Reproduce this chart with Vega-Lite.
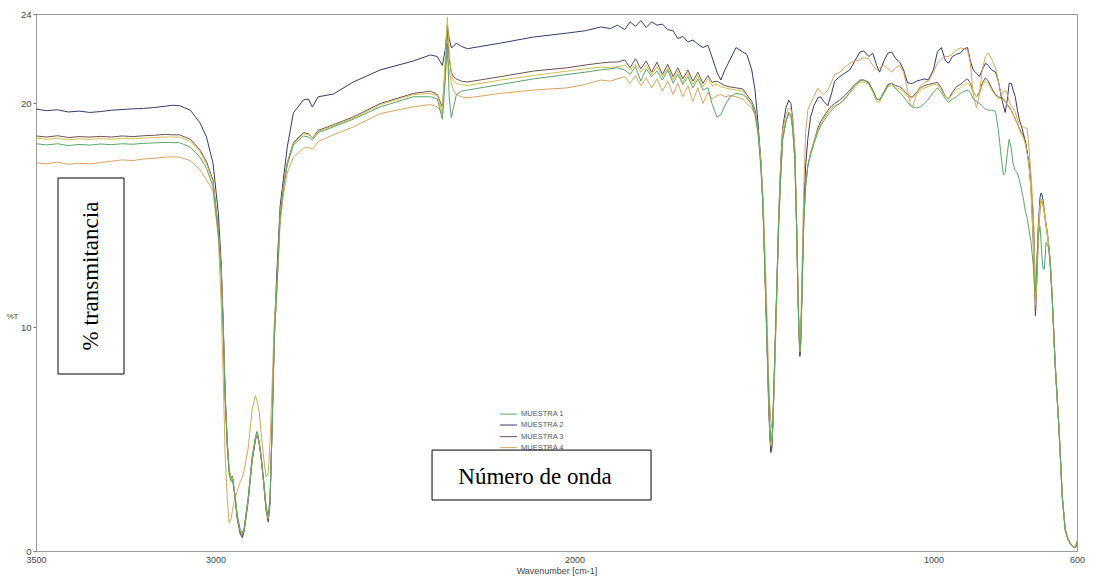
{
  "$schema": "https://vega.github.io/schema/vega-lite/v6.json",
  "autosize": "none",
  "width": 1041,
  "height": 537,
  "padding": {"left": 36, "top": 14, "right": 16, "bottom": 30},
  "background": "white",
  "config": {
    "view": {"stroke": "#9a9a9a"},
    "font": "Liberation Sans"
  },
  "layer": [
    {
      "data": {"values": [
        {"s":"MUESTRA 2","w":3500,"t":19.75},{"s":"MUESTRA 2","w":3470,"t":19.68},{"s":"MUESTRA 2","w":3440,"t":19.72},{"s":"MUESTRA 2","w":3410,"t":19.62},{"s":"MUESTRA 2","w":3380,"t":19.66},{"s":"MUESTRA 2","w":3350,"t":19.6},{"s":"MUESTRA 2","w":3320,"t":19.64},{"s":"MUESTRA 2","w":3290,"t":19.7},{"s":"MUESTRA 2","w":3260,"t":19.73},{"s":"MUESTRA 2","w":3230,"t":19.76},
        {"s":"MUESTRA 2","w":3200,"t":19.78},{"s":"MUESTRA 2","w":3170,"t":19.82},{"s":"MUESTRA 2","w":3140,"t":19.88},{"s":"MUESTRA 2","w":3120,"t":19.92},{"s":"MUESTRA 2","w":3100,"t":19.9},{"s":"MUESTRA 2","w":3070,"t":19.7},{"s":"MUESTRA 2","w":3043,"t":19.13},{"s":"MUESTRA 2","w":3025,"t":18.5},{"s":"MUESTRA 2","w":3007,"t":17.34},{"s":"MUESTRA 2","w":2992,"t":15.1},
        {"s":"MUESTRA 2","w":2984,"t":12.8},{"s":"MUESTRA 2","w":2978,"t":10.0},{"s":"MUESTRA 2","w":2973,"t":7.0},{"s":"MUESTRA 2","w":2967,"t":4.8},{"s":"MUESTRA 2","w":2962,"t":3.6},{"s":"MUESTRA 2","w":2956,"t":3.2},{"s":"MUESTRA 2","w":2953,"t":3.3},{"s":"MUESTRA 2","w":2948,"t":2.7},{"s":"MUESTRA 2","w":2939,"t":1.4},{"s":"MUESTRA 2","w":2931,"t":0.75},
        {"s":"MUESTRA 2","w":2925,"t":0.6},{"s":"MUESTRA 2","w":2920,"t":0.9},{"s":"MUESTRA 2","w":2909,"t":2.2},{"s":"MUESTRA 2","w":2898,"t":4.0},{"s":"MUESTRA 2","w":2889,"t":4.9},{"s":"MUESTRA 2","w":2884,"t":5.3},{"s":"MUESTRA 2","w":2878,"t":4.8},{"s":"MUESTRA 2","w":2873,"t":4.2},{"s":"MUESTRA 2","w":2864,"t":2.7},{"s":"MUESTRA 2","w":2859,"t":1.8},
        {"s":"MUESTRA 2","w":2853,"t":1.3},{"s":"MUESTRA 2","w":2848,"t":2.1},{"s":"MUESTRA 2","w":2842,"t":5.8},{"s":"MUESTRA 2","w":2836,"t":9.9},{"s":"MUESTRA 2","w":2828,"t":12.8},{"s":"MUESTRA 2","w":2820,"t":15.4},{"s":"MUESTRA 2","w":2811,"t":16.6},{"s":"MUESTRA 2","w":2800,"t":18.06},{"s":"MUESTRA 2","w":2783,"t":19.58},{"s":"MUESTRA 2","w":2755,"t":20.16},
        {"s":"MUESTRA 2","w":2741,"t":20.2},{"s":"MUESTRA 2","w":2730,"t":19.84},{"s":"MUESTRA 2","w":2714,"t":20.3},{"s":"MUESTRA 2","w":2672,"t":20.42},{"s":"MUESTRA 2","w":2616,"t":20.96},{"s":"MUESTRA 2","w":2541,"t":21.5},{"s":"MUESTRA 2","w":2449,"t":21.9},{"s":"MUESTRA 2","w":2401,"t":22.17},{"s":"MUESTRA 2","w":2382,"t":22.1},{"s":"MUESTRA 2","w":2368,"t":21.7},
        {"s":"MUESTRA 2","w":2360,"t":22.4},{"s":"MUESTRA 2","w":2354,"t":23.5},{"s":"MUESTRA 2","w":2349,"t":22.9},{"s":"MUESTRA 2","w":2343,"t":22.5},{"s":"MUESTRA 2","w":2337,"t":22.55},{"s":"MUESTRA 2","w":2329,"t":22.7},{"s":"MUESTRA 2","w":2315,"t":22.55},{"s":"MUESTRA 2","w":2298,"t":22.45},{"s":"MUESTRA 2","w":2206,"t":22.7},{"s":"MUESTRA 2","w":2114,"t":22.97},
        {"s":"MUESTRA 2","w":2019,"t":23.15},{"s":"MUESTRA 2","w":1970,"t":23.25},{"s":"MUESTRA 2","w":1927,"t":23.42},{"s":"MUESTRA 2","w":1900,"t":23.35},{"s":"MUESTRA 2","w":1880,"t":23.5},{"s":"MUESTRA 2","w":1860,"t":23.3},{"s":"MUESTRA 2","w":1845,"t":23.65},{"s":"MUESTRA 2","w":1830,"t":23.45},{"s":"MUESTRA 2","w":1815,"t":23.7},{"s":"MUESTRA 2","w":1800,"t":23.4},
        {"s":"MUESTRA 2","w":1785,"t":23.65},{"s":"MUESTRA 2","w":1770,"t":23.5},{"s":"MUESTRA 2","w":1755,"t":23.55},{"s":"MUESTRA 2","w":1740,"t":23.3},{"s":"MUESTRA 2","w":1725,"t":23.25},{"s":"MUESTRA 2","w":1712,"t":22.9},{"s":"MUESTRA 2","w":1698,"t":23.0},{"s":"MUESTRA 2","w":1684,"t":22.75},{"s":"MUESTRA 2","w":1670,"t":22.84},{"s":"MUESTRA 2","w":1656,"t":22.65},
        {"s":"MUESTRA 2","w":1642,"t":22.5},{"s":"MUESTRA 2","w":1628,"t":22.6},{"s":"MUESTRA 2","w":1617,"t":22.08},{"s":"MUESTRA 2","w":1603,"t":21.4},{"s":"MUESTRA 2","w":1592,"t":21.05},{"s":"MUESTRA 2","w":1581,"t":21.5},{"s":"MUESTRA 2","w":1567,"t":21.94},{"s":"MUESTRA 2","w":1550,"t":22.5},{"s":"MUESTRA 2","w":1531,"t":22.3},{"s":"MUESTRA 2","w":1520,"t":22.2},
        {"s":"MUESTRA 2","w":1506,"t":21.5},{"s":"MUESTRA 2","w":1497,"t":20.6},{"s":"MUESTRA 2","w":1489,"t":19.2},{"s":"MUESTRA 2","w":1481,"t":17.5},{"s":"MUESTRA 2","w":1475,"t":15.5},{"s":"MUESTRA 2","w":1470,"t":12.9},{"s":"MUESTRA 2","w":1464,"t":9.5},{"s":"MUESTRA 2","w":1459,"t":6.5},{"s":"MUESTRA 2","w":1456,"t":5.2},{"s":"MUESTRA 2","w":1453,"t":4.4},
        {"s":"MUESTRA 2","w":1450,"t":4.6},{"s":"MUESTRA 2","w":1447,"t":5.6},{"s":"MUESTRA 2","w":1442,"t":8.5},{"s":"MUESTRA 2","w":1436,"t":12.0},{"s":"MUESTRA 2","w":1431,"t":15.0},{"s":"MUESTRA 2","w":1425,"t":17.5},{"s":"MUESTRA 2","w":1420,"t":18.9},{"s":"MUESTRA 2","w":1411,"t":19.8},{"s":"MUESTRA 2","w":1403,"t":20.15},{"s":"MUESTRA 2","w":1397,"t":20.0},
        {"s":"MUESTRA 2","w":1392,"t":19.3},{"s":"MUESTRA 2","w":1386,"t":17.8},{"s":"MUESTRA 2","w":1381,"t":14.5},{"s":"MUESTRA 2","w":1378,"t":12.0},{"s":"MUESTRA 2","w":1375,"t":10.0},{"s":"MUESTRA 2","w":1372,"t":8.7},{"s":"MUESTRA 2","w":1370,"t":9.2},{"s":"MUESTRA 2","w":1367,"t":11.0},{"s":"MUESTRA 2","w":1364,"t":13.2},{"s":"MUESTRA 2","w":1361,"t":15.2},
        {"s":"MUESTRA 2","w":1356,"t":17.2},{"s":"MUESTRA 2","w":1350,"t":18.4},{"s":"MUESTRA 2","w":1342,"t":19.4},{"s":"MUESTRA 2","w":1333,"t":19.9},{"s":"MUESTRA 2","w":1322,"t":20.25},{"s":"MUESTRA 2","w":1314,"t":20.3},{"s":"MUESTRA 2","w":1306,"t":20.1},{"s":"MUESTRA 2","w":1294,"t":19.9},{"s":"MUESTRA 2","w":1283,"t":20.5},{"s":"MUESTRA 2","w":1275,"t":21.0},
        {"s":"MUESTRA 2","w":1261,"t":21.2},{"s":"MUESTRA 2","w":1247,"t":21.35},{"s":"MUESTRA 2","w":1233,"t":21.5},{"s":"MUESTRA 2","w":1219,"t":21.9},{"s":"MUESTRA 2","w":1205,"t":22.3},{"s":"MUESTRA 2","w":1194,"t":22.35},{"s":"MUESTRA 2","w":1180,"t":22.1},{"s":"MUESTRA 2","w":1169,"t":22.25},{"s":"MUESTRA 2","w":1158,"t":21.7},{"s":"MUESTRA 2","w":1150,"t":21.4},
        {"s":"MUESTRA 2","w":1138,"t":21.9},{"s":"MUESTRA 2","w":1127,"t":22.25},{"s":"MUESTRA 2","w":1116,"t":22.3},{"s":"MUESTRA 2","w":1105,"t":22.0},{"s":"MUESTRA 2","w":1094,"t":21.85},{"s":"MUESTRA 2","w":1083,"t":21.5},{"s":"MUESTRA 2","w":1072,"t":20.92},{"s":"MUESTRA 2","w":1064,"t":20.9},{"s":"MUESTRA 2","w":1058,"t":20.9},{"s":"MUESTRA 2","w":1047,"t":21.0},
        {"s":"MUESTRA 2","w":1036,"t":21.05},{"s":"MUESTRA 2","w":1025,"t":21.1},{"s":"MUESTRA 2","w":1014,"t":21.05},{"s":"MUESTRA 2","w":1000,"t":21.5},{"s":"MUESTRA 2","w":989,"t":22.3},{"s":"MUESTRA 2","w":978,"t":22.5},{"s":"MUESTRA 2","w":966,"t":21.9},{"s":"MUESTRA 2","w":958,"t":21.8},{"s":"MUESTRA 2","w":947,"t":22.1},{"s":"MUESTRA 2","w":936,"t":22.2},
        {"s":"MUESTRA 2","w":925,"t":22.25},{"s":"MUESTRA 2","w":914,"t":22.45},{"s":"MUESTRA 2","w":905,"t":22.5},{"s":"MUESTRA 2","w":897,"t":21.9},{"s":"MUESTRA 2","w":889,"t":21.5},{"s":"MUESTRA 2","w":880,"t":21.35},{"s":"MUESTRA 2","w":872,"t":21.2},{"s":"MUESTRA 2","w":864,"t":21.5},{"s":"MUESTRA 2","w":855,"t":21.8},{"s":"MUESTRA 2","w":847,"t":21.7},
        {"s":"MUESTRA 2","w":838,"t":21.5},{"s":"MUESTRA 2","w":827,"t":21.4},{"s":"MUESTRA 2","w":819,"t":21.0},{"s":"MUESTRA 2","w":811,"t":20.3},{"s":"MUESTRA 2","w":805,"t":19.9},{"s":"MUESTRA 2","w":800,"t":19.6},{"s":"MUESTRA 2","w":794,"t":20.2},{"s":"MUESTRA 2","w":789,"t":20.9},{"s":"MUESTRA 2","w":783,"t":20.9},{"s":"MUESTRA 2","w":778,"t":20.6},
        {"s":"MUESTRA 2","w":772,"t":20.3},{"s":"MUESTRA 2","w":766,"t":19.7},{"s":"MUESTRA 2","w":761,"t":19.3},{"s":"MUESTRA 2","w":755,"t":19.0},{"s":"MUESTRA 2","w":750,"t":18.7},{"s":"MUESTRA 2","w":744,"t":18.3},{"s":"MUESTRA 2","w":739,"t":17.8},{"s":"MUESTRA 2","w":733,"t":17.3},{"s":"MUESTRA 2","w":728,"t":16.3},{"s":"MUESTRA 2","w":722,"t":15.0},
        {"s":"MUESTRA 2","w":719,"t":13.5},{"s":"MUESTRA 2","w":716,"t":11.2},{"s":"MUESTRA 2","w":714,"t":11.6},{"s":"MUESTRA 2","w":711,"t":13.0},{"s":"MUESTRA 2","w":708,"t":14.5},{"s":"MUESTRA 2","w":703,"t":15.8},{"s":"MUESTRA 2","w":700,"t":16.0},{"s":"MUESTRA 2","w":697,"t":15.9},{"s":"MUESTRA 2","w":694,"t":15.6},{"s":"MUESTRA 2","w":691,"t":15.2},
        {"s":"MUESTRA 2","w":686,"t":14.6},{"s":"MUESTRA 2","w":680,"t":13.9},{"s":"MUESTRA 2","w":675,"t":13.0},{"s":"MUESTRA 2","w":669,"t":11.3},{"s":"MUESTRA 2","w":661,"t":8.4},{"s":"MUESTRA 2","w":650,"t":5.4},{"s":"MUESTRA 2","w":641,"t":2.4},{"s":"MUESTRA 2","w":633,"t":0.94},{"s":"MUESTRA 2","w":625,"t":0.5},{"s":"MUESTRA 2","w":616,"t":0.25},
        {"s":"MUESTRA 2","w":608,"t":0.15},{"s":"MUESTRA 2","w":603,"t":0.18},{"s":"MUESTRA 2","w":600,"t":0.42},

        {"s":"MUESTRA 3","w":3500,"t":18.55},{"s":"MUESTRA 3","w":3470,"t":18.5},{"s":"MUESTRA 3","w":3440,"t":18.56},{"s":"MUESTRA 3","w":3410,"t":18.48},{"s":"MUESTRA 3","w":3380,"t":18.52},{"s":"MUESTRA 3","w":3350,"t":18.5},{"s":"MUESTRA 3","w":3320,"t":18.53},{"s":"MUESTRA 3","w":3290,"t":18.5},{"s":"MUESTRA 3","w":3260,"t":18.55},{"s":"MUESTRA 3","w":3230,"t":18.52},
        {"s":"MUESTRA 3","w":3200,"t":18.56},{"s":"MUESTRA 3","w":3170,"t":18.58},{"s":"MUESTRA 3","w":3140,"t":18.62},{"s":"MUESTRA 3","w":3120,"t":18.6},{"s":"MUESTRA 3","w":3100,"t":18.6},{"s":"MUESTRA 3","w":3070,"t":18.4},{"s":"MUESTRA 3","w":3043,"t":17.92},{"s":"MUESTRA 3","w":3025,"t":17.4},{"s":"MUESTRA 3","w":3007,"t":16.58},{"s":"MUESTRA 3","w":2992,"t":14.4},
        {"s":"MUESTRA 3","w":2984,"t":12.6},{"s":"MUESTRA 3","w":2978,"t":9.8},{"s":"MUESTRA 3","w":2973,"t":6.9},{"s":"MUESTRA 3","w":2967,"t":4.8},{"s":"MUESTRA 3","w":2962,"t":3.6},{"s":"MUESTRA 3","w":2956,"t":3.25},{"s":"MUESTRA 3","w":2953,"t":3.35},{"s":"MUESTRA 3","w":2948,"t":2.8},{"s":"MUESTRA 3","w":2939,"t":1.5},{"s":"MUESTRA 3","w":2931,"t":0.85},
        {"s":"MUESTRA 3","w":2925,"t":0.7},{"s":"MUESTRA 3","w":2920,"t":1.0},{"s":"MUESTRA 3","w":2909,"t":2.3},{"s":"MUESTRA 3","w":2898,"t":4.1},{"s":"MUESTRA 3","w":2889,"t":5.0},{"s":"MUESTRA 3","w":2884,"t":5.3},{"s":"MUESTRA 3","w":2878,"t":4.75},{"s":"MUESTRA 3","w":2873,"t":4.2},{"s":"MUESTRA 3","w":2864,"t":2.8},{"s":"MUESTRA 3","w":2859,"t":1.9},
        {"s":"MUESTRA 3","w":2853,"t":1.45},{"s":"MUESTRA 3","w":2848,"t":2.3},{"s":"MUESTRA 3","w":2842,"t":5.6},{"s":"MUESTRA 3","w":2836,"t":9.6},{"s":"MUESTRA 3","w":2828,"t":12.1},{"s":"MUESTRA 3","w":2820,"t":15.0},{"s":"MUESTRA 3","w":2811,"t":16.3},{"s":"MUESTRA 3","w":2800,"t":17.35},{"s":"MUESTRA 3","w":2783,"t":18.25},{"s":"MUESTRA 3","w":2755,"t":18.7},
        {"s":"MUESTRA 3","w":2741,"t":18.65},{"s":"MUESTRA 3","w":2730,"t":18.45},{"s":"MUESTRA 3","w":2714,"t":18.8},{"s":"MUESTRA 3","w":2672,"t":19.05},{"s":"MUESTRA 3","w":2616,"t":19.4},{"s":"MUESTRA 3","w":2541,"t":20.0},{"s":"MUESTRA 3","w":2449,"t":20.45},{"s":"MUESTRA 3","w":2401,"t":20.55},{"s":"MUESTRA 3","w":2382,"t":20.4},{"s":"MUESTRA 3","w":2368,"t":19.84},
        {"s":"MUESTRA 3","w":2360,"t":21.5},{"s":"MUESTRA 3","w":2354,"t":23.3},{"s":"MUESTRA 3","w":2349,"t":22.0},{"s":"MUESTRA 3","w":2343,"t":21.4},{"s":"MUESTRA 3","w":2337,"t":21.2},{"s":"MUESTRA 3","w":2329,"t":21.1},{"s":"MUESTRA 3","w":2315,"t":21.0},{"s":"MUESTRA 3","w":2298,"t":20.96},{"s":"MUESTRA 3","w":2206,"t":21.2},{"s":"MUESTRA 3","w":2114,"t":21.45},
        {"s":"MUESTRA 3","w":2019,"t":21.6},{"s":"MUESTRA 3","w":1970,"t":21.72},{"s":"MUESTRA 3","w":1927,"t":21.81},{"s":"MUESTRA 3","w":1900,"t":21.85},{"s":"MUESTRA 3","w":1880,"t":21.85},{"s":"MUESTRA 3","w":1860,"t":21.95},{"s":"MUESTRA 3","w":1845,"t":21.6},{"s":"MUESTRA 3","w":1830,"t":22.0},{"s":"MUESTRA 3","w":1815,"t":21.55},{"s":"MUESTRA 3","w":1800,"t":21.9},
        {"s":"MUESTRA 3","w":1785,"t":21.4},{"s":"MUESTRA 3","w":1770,"t":21.85},{"s":"MUESTRA 3","w":1755,"t":21.3},{"s":"MUESTRA 3","w":1740,"t":21.75},{"s":"MUESTRA 3","w":1725,"t":21.2},{"s":"MUESTRA 3","w":1712,"t":21.6},{"s":"MUESTRA 3","w":1698,"t":21.1},{"s":"MUESTRA 3","w":1684,"t":21.5},{"s":"MUESTRA 3","w":1670,"t":21.0},{"s":"MUESTRA 3","w":1656,"t":21.4},
        {"s":"MUESTRA 3","w":1642,"t":20.9},{"s":"MUESTRA 3","w":1628,"t":21.25},{"s":"MUESTRA 3","w":1617,"t":20.95},{"s":"MUESTRA 3","w":1603,"t":21.0},{"s":"MUESTRA 3","w":1592,"t":20.9},{"s":"MUESTRA 3","w":1581,"t":20.8},{"s":"MUESTRA 3","w":1567,"t":20.74},{"s":"MUESTRA 3","w":1550,"t":20.7},{"s":"MUESTRA 3","w":1531,"t":20.65},{"s":"MUESTRA 3","w":1520,"t":20.4},
        {"s":"MUESTRA 3","w":1506,"t":20.1},{"s":"MUESTRA 3","w":1497,"t":19.7},{"s":"MUESTRA 3","w":1489,"t":18.9},{"s":"MUESTRA 3","w":1481,"t":17.4},{"s":"MUESTRA 3","w":1475,"t":15.6},{"s":"MUESTRA 3","w":1470,"t":13.0},{"s":"MUESTRA 3","w":1464,"t":9.7},{"s":"MUESTRA 3","w":1459,"t":6.8},{"s":"MUESTRA 3","w":1456,"t":5.5},{"s":"MUESTRA 3","w":1453,"t":4.6},
        {"s":"MUESTRA 3","w":1450,"t":4.8},{"s":"MUESTRA 3","w":1447,"t":5.9},{"s":"MUESTRA 3","w":1442,"t":8.6},{"s":"MUESTRA 3","w":1436,"t":11.8},{"s":"MUESTRA 3","w":1431,"t":14.6},{"s":"MUESTRA 3","w":1425,"t":16.9},{"s":"MUESTRA 3","w":1420,"t":18.4},{"s":"MUESTRA 3","w":1411,"t":19.2},{"s":"MUESTRA 3","w":1403,"t":19.6},{"s":"MUESTRA 3","w":1397,"t":19.5},
        {"s":"MUESTRA 3","w":1392,"t":18.9},{"s":"MUESTRA 3","w":1386,"t":17.5},{"s":"MUESTRA 3","w":1381,"t":14.4},{"s":"MUESTRA 3","w":1378,"t":12.0},{"s":"MUESTRA 3","w":1375,"t":10.0},{"s":"MUESTRA 3","w":1372,"t":8.8},{"s":"MUESTRA 3","w":1370,"t":9.2},{"s":"MUESTRA 3","w":1367,"t":11.0},{"s":"MUESTRA 3","w":1364,"t":13.0},{"s":"MUESTRA 3","w":1361,"t":14.8},
        {"s":"MUESTRA 3","w":1356,"t":16.3},{"s":"MUESTRA 3","w":1350,"t":17.2},{"s":"MUESTRA 3","w":1342,"t":17.8},{"s":"MUESTRA 3","w":1333,"t":18.3},{"s":"MUESTRA 3","w":1322,"t":18.9},{"s":"MUESTRA 3","w":1314,"t":19.2},{"s":"MUESTRA 3","w":1306,"t":19.4},{"s":"MUESTRA 3","w":1294,"t":19.7},{"s":"MUESTRA 3","w":1283,"t":19.9},{"s":"MUESTRA 3","w":1275,"t":20.0},
        {"s":"MUESTRA 3","w":1261,"t":20.15},{"s":"MUESTRA 3","w":1247,"t":20.35},{"s":"MUESTRA 3","w":1233,"t":20.6},{"s":"MUESTRA 3","w":1219,"t":20.85},{"s":"MUESTRA 3","w":1205,"t":21.05},{"s":"MUESTRA 3","w":1194,"t":21.05},{"s":"MUESTRA 3","w":1180,"t":20.95},{"s":"MUESTRA 3","w":1169,"t":20.6},{"s":"MUESTRA 3","w":1158,"t":20.2},{"s":"MUESTRA 3","w":1150,"t":20.16},
        {"s":"MUESTRA 3","w":1138,"t":20.5},{"s":"MUESTRA 3","w":1127,"t":20.85},{"s":"MUESTRA 3","w":1116,"t":20.9},{"s":"MUESTRA 3","w":1105,"t":20.8},{"s":"MUESTRA 3","w":1094,"t":20.75},{"s":"MUESTRA 3","w":1083,"t":20.6},{"s":"MUESTRA 3","w":1072,"t":20.4},{"s":"MUESTRA 3","w":1064,"t":20.3},{"s":"MUESTRA 3","w":1058,"t":20.3},{"s":"MUESTRA 3","w":1047,"t":20.5},
        {"s":"MUESTRA 3","w":1036,"t":20.7},{"s":"MUESTRA 3","w":1025,"t":20.8},{"s":"MUESTRA 3","w":1014,"t":20.85},{"s":"MUESTRA 3","w":1000,"t":20.9},{"s":"MUESTRA 3","w":989,"t":20.95},{"s":"MUESTRA 3","w":978,"t":20.7},{"s":"MUESTRA 3","w":966,"t":20.3},{"s":"MUESTRA 3","w":958,"t":20.2},{"s":"MUESTRA 3","w":947,"t":20.5},{"s":"MUESTRA 3","w":936,"t":20.75},
        {"s":"MUESTRA 3","w":925,"t":20.85},{"s":"MUESTRA 3","w":914,"t":21.0},{"s":"MUESTRA 3","w":905,"t":21.1},{"s":"MUESTRA 3","w":897,"t":20.9},{"s":"MUESTRA 3","w":889,"t":20.5},{"s":"MUESTRA 3","w":880,"t":20.3},{"s":"MUESTRA 3","w":872,"t":20.5},{"s":"MUESTRA 3","w":864,"t":20.9},{"s":"MUESTRA 3","w":855,"t":21.15},{"s":"MUESTRA 3","w":847,"t":21.0},
        {"s":"MUESTRA 3","w":838,"t":20.7},{"s":"MUESTRA 3","w":827,"t":20.4},{"s":"MUESTRA 3","w":819,"t":20.3},{"s":"MUESTRA 3","w":811,"t":20.25},{"s":"MUESTRA 3","w":805,"t":20.2},{"s":"MUESTRA 3","w":800,"t":20.1},{"s":"MUESTRA 3","w":794,"t":19.95},{"s":"MUESTRA 3","w":789,"t":19.85},{"s":"MUESTRA 3","w":783,"t":19.7},{"s":"MUESTRA 3","w":778,"t":19.5},
        {"s":"MUESTRA 3","w":772,"t":19.3},{"s":"MUESTRA 3","w":766,"t":19.1},{"s":"MUESTRA 3","w":761,"t":18.9},{"s":"MUESTRA 3","w":755,"t":18.7},{"s":"MUESTRA 3","w":750,"t":18.6},{"s":"MUESTRA 3","w":744,"t":18.3},{"s":"MUESTRA 3","w":739,"t":17.9},{"s":"MUESTRA 3","w":733,"t":17.1},{"s":"MUESTRA 3","w":728,"t":16.2},{"s":"MUESTRA 3","w":722,"t":13.8},
        {"s":"MUESTRA 3","w":719,"t":12.2},{"s":"MUESTRA 3","w":716,"t":10.5},{"s":"MUESTRA 3","w":714,"t":11.0},{"s":"MUESTRA 3","w":711,"t":12.5},{"s":"MUESTRA 3","w":708,"t":13.8},{"s":"MUESTRA 3","w":703,"t":15.3},{"s":"MUESTRA 3","w":700,"t":15.6},{"s":"MUESTRA 3","w":697,"t":15.6},{"s":"MUESTRA 3","w":694,"t":15.4},{"s":"MUESTRA 3","w":691,"t":15.1},
        {"s":"MUESTRA 3","w":686,"t":14.5},{"s":"MUESTRA 3","w":680,"t":13.8},{"s":"MUESTRA 3","w":675,"t":13.0},{"s":"MUESTRA 3","w":669,"t":11.3},{"s":"MUESTRA 3","w":661,"t":8.4},{"s":"MUESTRA 3","w":650,"t":5.4},{"s":"MUESTRA 3","w":641,"t":2.45},{"s":"MUESTRA 3","w":633,"t":1.0},{"s":"MUESTRA 3","w":625,"t":0.55},{"s":"MUESTRA 3","w":616,"t":0.28},
        {"s":"MUESTRA 3","w":608,"t":0.17},{"s":"MUESTRA 3","w":603,"t":0.2},{"s":"MUESTRA 3","w":600,"t":0.42},

        {"s":"MUESTRA 4","w":3500,"t":17.35},{"s":"MUESTRA 4","w":3470,"t":17.3},{"s":"MUESTRA 4","w":3440,"t":17.38},{"s":"MUESTRA 4","w":3410,"t":17.28},{"s":"MUESTRA 4","w":3380,"t":17.33},{"s":"MUESTRA 4","w":3350,"t":17.3},{"s":"MUESTRA 4","w":3320,"t":17.36},{"s":"MUESTRA 4","w":3290,"t":17.42},{"s":"MUESTRA 4","w":3260,"t":17.48},{"s":"MUESTRA 4","w":3230,"t":17.45},
        {"s":"MUESTRA 4","w":3200,"t":17.52},{"s":"MUESTRA 4","w":3170,"t":17.55},{"s":"MUESTRA 4","w":3140,"t":17.6},{"s":"MUESTRA 4","w":3120,"t":17.62},{"s":"MUESTRA 4","w":3100,"t":17.6},{"s":"MUESTRA 4","w":3070,"t":17.45},{"s":"MUESTRA 4","w":3043,"t":17.03},{"s":"MUESTRA 4","w":3025,"t":16.6},{"s":"MUESTRA 4","w":3007,"t":16.1},{"s":"MUESTRA 4","w":2992,"t":14.0},
        {"s":"MUESTRA 4","w":2984,"t":11.0},{"s":"MUESTRA 4","w":2978,"t":7.5},{"s":"MUESTRA 4","w":2973,"t":4.2},{"s":"MUESTRA 4","w":2967,"t":2.3},{"s":"MUESTRA 4","w":2962,"t":1.25},{"s":"MUESTRA 4","w":2956,"t":1.45},{"s":"MUESTRA 4","w":2953,"t":1.8},{"s":"MUESTRA 4","w":2948,"t":2.2},{"s":"MUESTRA 4","w":2939,"t":2.7},{"s":"MUESTRA 4","w":2931,"t":3.1},
        {"s":"MUESTRA 4","w":2925,"t":3.3},{"s":"MUESTRA 4","w":2920,"t":3.6},{"s":"MUESTRA 4","w":2909,"t":4.6},{"s":"MUESTRA 4","w":2898,"t":6.3},{"s":"MUESTRA 4","w":2889,"t":6.95},{"s":"MUESTRA 4","w":2884,"t":6.7},{"s":"MUESTRA 4","w":2878,"t":6.2},{"s":"MUESTRA 4","w":2873,"t":5.3},{"s":"MUESTRA 4","w":2864,"t":3.9},{"s":"MUESTRA 4","w":2859,"t":3.3},
        {"s":"MUESTRA 4","w":2853,"t":3.5},{"s":"MUESTRA 4","w":2848,"t":4.8},{"s":"MUESTRA 4","w":2842,"t":7.5},{"s":"MUESTRA 4","w":2836,"t":10.3},{"s":"MUESTRA 4","w":2828,"t":12.0},{"s":"MUESTRA 4","w":2820,"t":14.6},{"s":"MUESTRA 4","w":2811,"t":15.9},{"s":"MUESTRA 4","w":2800,"t":16.9},{"s":"MUESTRA 4","w":2783,"t":17.6},{"s":"MUESTRA 4","w":2755,"t":18.0},
        {"s":"MUESTRA 4","w":2741,"t":18.05},{"s":"MUESTRA 4","w":2730,"t":17.95},{"s":"MUESTRA 4","w":2714,"t":18.3},{"s":"MUESTRA 4","w":2672,"t":18.6},{"s":"MUESTRA 4","w":2616,"t":18.95},{"s":"MUESTRA 4","w":2541,"t":19.55},{"s":"MUESTRA 4","w":2449,"t":19.85},{"s":"MUESTRA 4","w":2401,"t":19.95},{"s":"MUESTRA 4","w":2382,"t":19.85},{"s":"MUESTRA 4","w":2368,"t":19.55},
        {"s":"MUESTRA 4","w":2360,"t":21.7},{"s":"MUESTRA 4","w":2354,"t":22.2},{"s":"MUESTRA 4","w":2349,"t":21.5},{"s":"MUESTRA 4","w":2343,"t":20.9},{"s":"MUESTRA 4","w":2337,"t":20.6},{"s":"MUESTRA 4","w":2329,"t":20.4},{"s":"MUESTRA 4","w":2315,"t":20.3},{"s":"MUESTRA 4","w":2298,"t":20.25},{"s":"MUESTRA 4","w":2206,"t":20.45},{"s":"MUESTRA 4","w":2114,"t":20.6},
        {"s":"MUESTRA 4","w":2019,"t":20.7},{"s":"MUESTRA 4","w":1970,"t":20.85},{"s":"MUESTRA 4","w":1927,"t":21.05},{"s":"MUESTRA 4","w":1900,"t":21.0},{"s":"MUESTRA 4","w":1880,"t":21.1},{"s":"MUESTRA 4","w":1860,"t":21.2},{"s":"MUESTRA 4","w":1845,"t":20.9},{"s":"MUESTRA 4","w":1830,"t":21.25},{"s":"MUESTRA 4","w":1815,"t":20.8},{"s":"MUESTRA 4","w":1800,"t":21.15},
        {"s":"MUESTRA 4","w":1785,"t":20.7},{"s":"MUESTRA 4","w":1770,"t":21.1},{"s":"MUESTRA 4","w":1755,"t":20.55},{"s":"MUESTRA 4","w":1740,"t":21.0},{"s":"MUESTRA 4","w":1725,"t":20.4},{"s":"MUESTRA 4","w":1712,"t":20.9},{"s":"MUESTRA 4","w":1698,"t":20.3},{"s":"MUESTRA 4","w":1684,"t":20.8},{"s":"MUESTRA 4","w":1670,"t":20.1},{"s":"MUESTRA 4","w":1656,"t":20.7},
        {"s":"MUESTRA 4","w":1642,"t":20.0},{"s":"MUESTRA 4","w":1628,"t":20.5},{"s":"MUESTRA 4","w":1617,"t":20.2},{"s":"MUESTRA 4","w":1603,"t":20.35},{"s":"MUESTRA 4","w":1592,"t":20.4},{"s":"MUESTRA 4","w":1581,"t":20.3},{"s":"MUESTRA 4","w":1567,"t":20.35},{"s":"MUESTRA 4","w":1550,"t":20.3},{"s":"MUESTRA 4","w":1531,"t":20.2},{"s":"MUESTRA 4","w":1520,"t":20.0},
        {"s":"MUESTRA 4","w":1506,"t":19.8},{"s":"MUESTRA 4","w":1497,"t":19.5},{"s":"MUESTRA 4","w":1489,"t":18.8},{"s":"MUESTRA 4","w":1481,"t":17.5},{"s":"MUESTRA 4","w":1475,"t":16.0},{"s":"MUESTRA 4","w":1470,"t":13.8},{"s":"MUESTRA 4","w":1464,"t":10.8},{"s":"MUESTRA 4","w":1459,"t":7.8},{"s":"MUESTRA 4","w":1456,"t":6.6},{"s":"MUESTRA 4","w":1453,"t":5.8},
        {"s":"MUESTRA 4","w":1450,"t":5.5},{"s":"MUESTRA 4","w":1447,"t":5.9},{"s":"MUESTRA 4","w":1442,"t":8.0},{"s":"MUESTRA 4","w":1436,"t":11.5},{"s":"MUESTRA 4","w":1431,"t":14.9},{"s":"MUESTRA 4","w":1425,"t":17.4},{"s":"MUESTRA 4","w":1420,"t":18.8},{"s":"MUESTRA 4","w":1411,"t":19.5},{"s":"MUESTRA 4","w":1403,"t":19.8},{"s":"MUESTRA 4","w":1397,"t":19.75},
        {"s":"MUESTRA 4","w":1392,"t":19.3},{"s":"MUESTRA 4","w":1386,"t":18.0},{"s":"MUESTRA 4","w":1381,"t":14.8},{"s":"MUESTRA 4","w":1378,"t":12.5},{"s":"MUESTRA 4","w":1375,"t":10.3},{"s":"MUESTRA 4","w":1372,"t":9.0},{"s":"MUESTRA 4","w":1370,"t":9.5},{"s":"MUESTRA 4","w":1367,"t":11.8},{"s":"MUESTRA 4","w":1364,"t":14.2},{"s":"MUESTRA 4","w":1361,"t":16.3},
        {"s":"MUESTRA 4","w":1356,"t":18.7},{"s":"MUESTRA 4","w":1350,"t":19.7},{"s":"MUESTRA 4","w":1342,"t":20.0},{"s":"MUESTRA 4","w":1333,"t":20.3},{"s":"MUESTRA 4","w":1322,"t":20.7},{"s":"MUESTRA 4","w":1314,"t":20.5},{"s":"MUESTRA 4","w":1306,"t":20.4},{"s":"MUESTRA 4","w":1294,"t":20.6},{"s":"MUESTRA 4","w":1283,"t":21.0},{"s":"MUESTRA 4","w":1275,"t":21.3},
        {"s":"MUESTRA 4","w":1261,"t":21.4},{"s":"MUESTRA 4","w":1247,"t":21.6},{"s":"MUESTRA 4","w":1233,"t":21.8},{"s":"MUESTRA 4","w":1219,"t":21.9},{"s":"MUESTRA 4","w":1205,"t":21.95},{"s":"MUESTRA 4","w":1194,"t":22.05},{"s":"MUESTRA 4","w":1180,"t":22.0},{"s":"MUESTRA 4","w":1169,"t":21.7},{"s":"MUESTRA 4","w":1158,"t":21.5},{"s":"MUESTRA 4","w":1150,"t":21.6},
        {"s":"MUESTRA 4","w":1138,"t":21.7},{"s":"MUESTRA 4","w":1127,"t":21.55},{"s":"MUESTRA 4","w":1116,"t":21.4},{"s":"MUESTRA 4","w":1105,"t":21.6},{"s":"MUESTRA 4","w":1094,"t":21.7},{"s":"MUESTRA 4","w":1083,"t":21.4},{"s":"MUESTRA 4","w":1072,"t":20.6},{"s":"MUESTRA 4","w":1064,"t":19.9},{"s":"MUESTRA 4","w":1058,"t":19.84},{"s":"MUESTRA 4","w":1047,"t":20.4},
        {"s":"MUESTRA 4","w":1036,"t":20.8},{"s":"MUESTRA 4","w":1025,"t":20.95},{"s":"MUESTRA 4","w":1014,"t":21.0},{"s":"MUESTRA 4","w":1000,"t":21.4},{"s":"MUESTRA 4","w":989,"t":21.8},{"s":"MUESTRA 4","w":978,"t":22.0},{"s":"MUESTRA 4","w":966,"t":22.1},{"s":"MUESTRA 4","w":958,"t":22.1},{"s":"MUESTRA 4","w":947,"t":22.2},{"s":"MUESTRA 4","w":936,"t":22.4},
        {"s":"MUESTRA 4","w":925,"t":22.48},{"s":"MUESTRA 4","w":914,"t":22.45},{"s":"MUESTRA 4","w":905,"t":22.4},{"s":"MUESTRA 4","w":897,"t":21.8},{"s":"MUESTRA 4","w":889,"t":20.4},{"s":"MUESTRA 4","w":880,"t":19.8},{"s":"MUESTRA 4","w":872,"t":20.4},{"s":"MUESTRA 4","w":864,"t":21.5},{"s":"MUESTRA 4","w":855,"t":22.1},{"s":"MUESTRA 4","w":847,"t":22.26},
        {"s":"MUESTRA 4","w":838,"t":22.0},{"s":"MUESTRA 4","w":827,"t":21.6},{"s":"MUESTRA 4","w":819,"t":21.0},{"s":"MUESTRA 4","w":811,"t":20.4},{"s":"MUESTRA 4","w":805,"t":20.5},{"s":"MUESTRA 4","w":800,"t":20.6},{"s":"MUESTRA 4","w":794,"t":20.4},{"s":"MUESTRA 4","w":789,"t":20.1},{"s":"MUESTRA 4","w":783,"t":19.9},{"s":"MUESTRA 4","w":778,"t":19.8},
        {"s":"MUESTRA 4","w":772,"t":19.6},{"s":"MUESTRA 4","w":766,"t":19.3},{"s":"MUESTRA 4","w":761,"t":19.1},{"s":"MUESTRA 4","w":755,"t":19.0},{"s":"MUESTRA 4","w":750,"t":18.95},{"s":"MUESTRA 4","w":744,"t":18.9},{"s":"MUESTRA 4","w":739,"t":18.9},{"s":"MUESTRA 4","w":733,"t":17.9},{"s":"MUESTRA 4","w":728,"t":16.8},{"s":"MUESTRA 4","w":722,"t":15.2},
        {"s":"MUESTRA 4","w":719,"t":13.8},{"s":"MUESTRA 4","w":716,"t":11.5},{"s":"MUESTRA 4","w":714,"t":11.7},{"s":"MUESTRA 4","w":711,"t":13.0},{"s":"MUESTRA 4","w":708,"t":14.3},{"s":"MUESTRA 4","w":703,"t":15.5},{"s":"MUESTRA 4","w":700,"t":15.7},{"s":"MUESTRA 4","w":697,"t":15.7},{"s":"MUESTRA 4","w":694,"t":15.5},{"s":"MUESTRA 4","w":691,"t":15.2},
        {"s":"MUESTRA 4","w":686,"t":14.6},{"s":"MUESTRA 4","w":680,"t":13.9},{"s":"MUESTRA 4","w":675,"t":13.0},{"s":"MUESTRA 4","w":669,"t":11.3},{"s":"MUESTRA 4","w":661,"t":8.5},{"s":"MUESTRA 4","w":650,"t":5.5},{"s":"MUESTRA 4","w":641,"t":2.5},{"s":"MUESTRA 4","w":633,"t":1.0},{"s":"MUESTRA 4","w":625,"t":0.55},{"s":"MUESTRA 4","w":616,"t":0.28},
        {"s":"MUESTRA 4","w":608,"t":0.17},{"s":"MUESTRA 4","w":603,"t":0.2},{"s":"MUESTRA 4","w":600,"t":0.42},

        {"s":"MUESTRA 5","w":3500,"t":18.45},{"s":"MUESTRA 5","w":3470,"t":18.4},{"s":"MUESTRA 5","w":3440,"t":18.44},{"s":"MUESTRA 5","w":3410,"t":18.38},{"s":"MUESTRA 5","w":3380,"t":18.42},{"s":"MUESTRA 5","w":3350,"t":18.4},{"s":"MUESTRA 5","w":3320,"t":18.43},{"s":"MUESTRA 5","w":3290,"t":18.4},{"s":"MUESTRA 5","w":3260,"t":18.45},{"s":"MUESTRA 5","w":3230,"t":18.42},
        {"s":"MUESTRA 5","w":3200,"t":18.46},{"s":"MUESTRA 5","w":3170,"t":18.48},{"s":"MUESTRA 5","w":3140,"t":18.5},{"s":"MUESTRA 5","w":3120,"t":18.5},{"s":"MUESTRA 5","w":3100,"t":18.5},{"s":"MUESTRA 5","w":3070,"t":18.3},{"s":"MUESTRA 5","w":3043,"t":17.85},{"s":"MUESTRA 5","w":3025,"t":17.3},{"s":"MUESTRA 5","w":3007,"t":16.5},{"s":"MUESTRA 5","w":2992,"t":14.3},
        {"s":"MUESTRA 5","w":2984,"t":12.5},{"s":"MUESTRA 5","w":2978,"t":9.7},{"s":"MUESTRA 5","w":2973,"t":6.8},{"s":"MUESTRA 5","w":2967,"t":4.7},{"s":"MUESTRA 5","w":2962,"t":3.6},{"s":"MUESTRA 5","w":2956,"t":3.2},{"s":"MUESTRA 5","w":2953,"t":3.3},{"s":"MUESTRA 5","w":2948,"t":2.8},{"s":"MUESTRA 5","w":2939,"t":1.5},{"s":"MUESTRA 5","w":2931,"t":0.9},
        {"s":"MUESTRA 5","w":2925,"t":0.75},{"s":"MUESTRA 5","w":2920,"t":1.0},{"s":"MUESTRA 5","w":2909,"t":2.3},{"s":"MUESTRA 5","w":2898,"t":4.1},{"s":"MUESTRA 5","w":2889,"t":5.0},{"s":"MUESTRA 5","w":2884,"t":5.3},{"s":"MUESTRA 5","w":2878,"t":4.8},{"s":"MUESTRA 5","w":2873,"t":4.25},{"s":"MUESTRA 5","w":2864,"t":2.8},{"s":"MUESTRA 5","w":2859,"t":1.9},
        {"s":"MUESTRA 5","w":2853,"t":1.45},{"s":"MUESTRA 5","w":2848,"t":2.3},{"s":"MUESTRA 5","w":2842,"t":5.6},{"s":"MUESTRA 5","w":2836,"t":9.6},{"s":"MUESTRA 5","w":2828,"t":12.1},{"s":"MUESTRA 5","w":2820,"t":15.0},{"s":"MUESTRA 5","w":2811,"t":16.3},{"s":"MUESTRA 5","w":2800,"t":17.3},{"s":"MUESTRA 5","w":2783,"t":18.2},{"s":"MUESTRA 5","w":2755,"t":18.65},
        {"s":"MUESTRA 5","w":2741,"t":18.6},{"s":"MUESTRA 5","w":2730,"t":18.45},{"s":"MUESTRA 5","w":2714,"t":18.75},{"s":"MUESTRA 5","w":2672,"t":19.0},{"s":"MUESTRA 5","w":2616,"t":19.35},{"s":"MUESTRA 5","w":2541,"t":19.95},{"s":"MUESTRA 5","w":2449,"t":20.4},{"s":"MUESTRA 5","w":2401,"t":20.45},{"s":"MUESTRA 5","w":2382,"t":20.35},{"s":"MUESTRA 5","w":2368,"t":19.6},
        {"s":"MUESTRA 5","w":2360,"t":22.0},{"s":"MUESTRA 5","w":2354,"t":23.87},{"s":"MUESTRA 5","w":2349,"t":22.3},{"s":"MUESTRA 5","w":2343,"t":21.3},{"s":"MUESTRA 5","w":2337,"t":21.0},{"s":"MUESTRA 5","w":2329,"t":20.9},{"s":"MUESTRA 5","w":2315,"t":20.85},{"s":"MUESTRA 5","w":2298,"t":20.8},{"s":"MUESTRA 5","w":2206,"t":21.05},{"s":"MUESTRA 5","w":2114,"t":21.25},
        {"s":"MUESTRA 5","w":2019,"t":21.45},{"s":"MUESTRA 5","w":1970,"t":21.55},{"s":"MUESTRA 5","w":1927,"t":21.63},{"s":"MUESTRA 5","w":1900,"t":21.6},{"s":"MUESTRA 5","w":1880,"t":21.65},{"s":"MUESTRA 5","w":1860,"t":21.7},{"s":"MUESTRA 5","w":1845,"t":21.5},{"s":"MUESTRA 5","w":1830,"t":21.75},{"s":"MUESTRA 5","w":1815,"t":21.4},{"s":"MUESTRA 5","w":1800,"t":21.7},
        {"s":"MUESTRA 5","w":1785,"t":21.3},{"s":"MUESTRA 5","w":1770,"t":21.65},{"s":"MUESTRA 5","w":1755,"t":21.2},{"s":"MUESTRA 5","w":1740,"t":21.6},{"s":"MUESTRA 5","w":1725,"t":21.05},{"s":"MUESTRA 5","w":1712,"t":21.45},{"s":"MUESTRA 5","w":1698,"t":20.95},{"s":"MUESTRA 5","w":1684,"t":21.35},{"s":"MUESTRA 5","w":1670,"t":20.85},{"s":"MUESTRA 5","w":1656,"t":21.25},
        {"s":"MUESTRA 5","w":1642,"t":20.75},{"s":"MUESTRA 5","w":1628,"t":21.1},{"s":"MUESTRA 5","w":1617,"t":20.8},{"s":"MUESTRA 5","w":1603,"t":20.85},{"s":"MUESTRA 5","w":1592,"t":20.75},{"s":"MUESTRA 5","w":1581,"t":20.7},{"s":"MUESTRA 5","w":1567,"t":20.65},{"s":"MUESTRA 5","w":1550,"t":20.6},{"s":"MUESTRA 5","w":1531,"t":20.55},{"s":"MUESTRA 5","w":1520,"t":20.3},
        {"s":"MUESTRA 5","w":1506,"t":20.0},{"s":"MUESTRA 5","w":1497,"t":19.6},{"s":"MUESTRA 5","w":1489,"t":18.8},{"s":"MUESTRA 5","w":1481,"t":17.3},{"s":"MUESTRA 5","w":1475,"t":15.5},{"s":"MUESTRA 5","w":1470,"t":12.9},{"s":"MUESTRA 5","w":1464,"t":9.6},{"s":"MUESTRA 5","w":1459,"t":6.8},{"s":"MUESTRA 5","w":1456,"t":5.5},{"s":"MUESTRA 5","w":1453,"t":4.7},
        {"s":"MUESTRA 5","w":1450,"t":4.9},{"s":"MUESTRA 5","w":1447,"t":5.9},{"s":"MUESTRA 5","w":1442,"t":8.6},{"s":"MUESTRA 5","w":1436,"t":11.8},{"s":"MUESTRA 5","w":1431,"t":14.6},{"s":"MUESTRA 5","w":1425,"t":16.9},{"s":"MUESTRA 5","w":1420,"t":18.4},{"s":"MUESTRA 5","w":1411,"t":19.2},{"s":"MUESTRA 5","w":1403,"t":19.55},{"s":"MUESTRA 5","w":1397,"t":19.5},
        {"s":"MUESTRA 5","w":1392,"t":18.9},{"s":"MUESTRA 5","w":1386,"t":17.5},{"s":"MUESTRA 5","w":1381,"t":14.4},{"s":"MUESTRA 5","w":1378,"t":12.0},{"s":"MUESTRA 5","w":1375,"t":10.0},{"s":"MUESTRA 5","w":1372,"t":8.9},{"s":"MUESTRA 5","w":1370,"t":9.3},{"s":"MUESTRA 5","w":1367,"t":11.0},{"s":"MUESTRA 5","w":1364,"t":13.0},{"s":"MUESTRA 5","w":1361,"t":14.8},
        {"s":"MUESTRA 5","w":1356,"t":16.3},{"s":"MUESTRA 5","w":1350,"t":17.2},{"s":"MUESTRA 5","w":1342,"t":17.8},{"s":"MUESTRA 5","w":1333,"t":18.3},{"s":"MUESTRA 5","w":1322,"t":18.8},{"s":"MUESTRA 5","w":1314,"t":19.1},{"s":"MUESTRA 5","w":1306,"t":19.3},{"s":"MUESTRA 5","w":1294,"t":19.6},{"s":"MUESTRA 5","w":1283,"t":19.8},{"s":"MUESTRA 5","w":1275,"t":19.9},
        {"s":"MUESTRA 5","w":1261,"t":20.0},{"s":"MUESTRA 5","w":1247,"t":20.2},{"s":"MUESTRA 5","w":1233,"t":20.45},{"s":"MUESTRA 5","w":1219,"t":20.7},{"s":"MUESTRA 5","w":1205,"t":20.95},{"s":"MUESTRA 5","w":1194,"t":20.95},{"s":"MUESTRA 5","w":1180,"t":20.85},{"s":"MUESTRA 5","w":1169,"t":20.5},{"s":"MUESTRA 5","w":1158,"t":20.1},{"s":"MUESTRA 5","w":1150,"t":20.05},
        {"s":"MUESTRA 5","w":1138,"t":20.4},{"s":"MUESTRA 5","w":1127,"t":20.75},{"s":"MUESTRA 5","w":1116,"t":20.8},{"s":"MUESTRA 5","w":1105,"t":20.7},{"s":"MUESTRA 5","w":1094,"t":20.65},{"s":"MUESTRA 5","w":1083,"t":20.5},{"s":"MUESTRA 5","w":1072,"t":20.3},{"s":"MUESTRA 5","w":1064,"t":20.2},{"s":"MUESTRA 5","w":1058,"t":20.25},{"s":"MUESTRA 5","w":1047,"t":20.4},
        {"s":"MUESTRA 5","w":1036,"t":20.6},{"s":"MUESTRA 5","w":1025,"t":20.7},{"s":"MUESTRA 5","w":1014,"t":20.75},{"s":"MUESTRA 5","w":1000,"t":20.85},{"s":"MUESTRA 5","w":989,"t":20.85},{"s":"MUESTRA 5","w":978,"t":20.6},{"s":"MUESTRA 5","w":966,"t":20.3},{"s":"MUESTRA 5","w":958,"t":20.2},{"s":"MUESTRA 5","w":947,"t":20.4},{"s":"MUESTRA 5","w":936,"t":20.6},
        {"s":"MUESTRA 5","w":925,"t":20.7},{"s":"MUESTRA 5","w":914,"t":20.85},{"s":"MUESTRA 5","w":905,"t":20.9},{"s":"MUESTRA 5","w":897,"t":20.8},{"s":"MUESTRA 5","w":889,"t":20.5},{"s":"MUESTRA 5","w":880,"t":20.3},{"s":"MUESTRA 5","w":872,"t":20.4},{"s":"MUESTRA 5","w":864,"t":20.8},{"s":"MUESTRA 5","w":855,"t":21.0},{"s":"MUESTRA 5","w":847,"t":20.9},
        {"s":"MUESTRA 5","w":838,"t":20.6},{"s":"MUESTRA 5","w":827,"t":20.35},{"s":"MUESTRA 5","w":819,"t":20.2},{"s":"MUESTRA 5","w":811,"t":20.2},{"s":"MUESTRA 5","w":805,"t":20.15},{"s":"MUESTRA 5","w":800,"t":20.1},{"s":"MUESTRA 5","w":794,"t":19.9},{"s":"MUESTRA 5","w":789,"t":19.8},{"s":"MUESTRA 5","w":783,"t":19.7},{"s":"MUESTRA 5","w":778,"t":19.5},
        {"s":"MUESTRA 5","w":772,"t":19.3},{"s":"MUESTRA 5","w":766,"t":19.1},{"s":"MUESTRA 5","w":761,"t":18.85},{"s":"MUESTRA 5","w":755,"t":18.6},{"s":"MUESTRA 5","w":750,"t":18.5},{"s":"MUESTRA 5","w":744,"t":18.2},{"s":"MUESTRA 5","w":739,"t":17.8},{"s":"MUESTRA 5","w":733,"t":17.1},{"s":"MUESTRA 5","w":728,"t":16.1},{"s":"MUESTRA 5","w":722,"t":13.9},
        {"s":"MUESTRA 5","w":719,"t":12.5},{"s":"MUESTRA 5","w":716,"t":11.0},{"s":"MUESTRA 5","w":714,"t":11.4},{"s":"MUESTRA 5","w":711,"t":12.8},{"s":"MUESTRA 5","w":708,"t":14.0},{"s":"MUESTRA 5","w":703,"t":15.4},{"s":"MUESTRA 5","w":700,"t":15.6},{"s":"MUESTRA 5","w":697,"t":15.6},{"s":"MUESTRA 5","w":694,"t":15.4},{"s":"MUESTRA 5","w":691,"t":15.1},
        {"s":"MUESTRA 5","w":686,"t":14.5},{"s":"MUESTRA 5","w":680,"t":13.8},{"s":"MUESTRA 5","w":675,"t":13.0},{"s":"MUESTRA 5","w":669,"t":11.3},{"s":"MUESTRA 5","w":661,"t":8.4},{"s":"MUESTRA 5","w":650,"t":5.4},{"s":"MUESTRA 5","w":641,"t":2.4},{"s":"MUESTRA 5","w":633,"t":0.95},{"s":"MUESTRA 5","w":625,"t":0.5},{"s":"MUESTRA 5","w":616,"t":0.25},
        {"s":"MUESTRA 5","w":608,"t":0.15},{"s":"MUESTRA 5","w":603,"t":0.18},{"s":"MUESTRA 5","w":600,"t":0.42},

        {"s":"MUESTRA 1","w":3500,"t":18.2},{"s":"MUESTRA 1","w":3470,"t":18.15},{"s":"MUESTRA 1","w":3440,"t":18.2},{"s":"MUESTRA 1","w":3410,"t":18.12},{"s":"MUESTRA 1","w":3380,"t":18.17},{"s":"MUESTRA 1","w":3350,"t":18.14},{"s":"MUESTRA 1","w":3320,"t":18.19},{"s":"MUESTRA 1","w":3290,"t":18.16},{"s":"MUESTRA 1","w":3260,"t":18.2},{"s":"MUESTRA 1","w":3230,"t":18.18},
        {"s":"MUESTRA 1","w":3200,"t":18.22},{"s":"MUESTRA 1","w":3170,"t":18.24},{"s":"MUESTRA 1","w":3140,"t":18.26},{"s":"MUESTRA 1","w":3120,"t":18.25},{"s":"MUESTRA 1","w":3100,"t":18.25},{"s":"MUESTRA 1","w":3070,"t":18.05},{"s":"MUESTRA 1","w":3043,"t":17.6},{"s":"MUESTRA 1","w":3025,"t":17.1},{"s":"MUESTRA 1","w":3007,"t":16.3},{"s":"MUESTRA 1","w":2992,"t":14.2},
        {"s":"MUESTRA 1","w":2984,"t":12.4},{"s":"MUESTRA 1","w":2978,"t":9.6},{"s":"MUESTRA 1","w":2973,"t":6.7},{"s":"MUESTRA 1","w":2967,"t":4.6},{"s":"MUESTRA 1","w":2962,"t":3.4},{"s":"MUESTRA 1","w":2956,"t":3.1},{"s":"MUESTRA 1","w":2953,"t":3.2},{"s":"MUESTRA 1","w":2948,"t":2.75},{"s":"MUESTRA 1","w":2939,"t":1.6},{"s":"MUESTRA 1","w":2931,"t":0.95},
        {"s":"MUESTRA 1","w":2925,"t":0.8},{"s":"MUESTRA 1","w":2920,"t":1.05},{"s":"MUESTRA 1","w":2909,"t":2.4},{"s":"MUESTRA 1","w":2898,"t":4.2},{"s":"MUESTRA 1","w":2889,"t":5.1},{"s":"MUESTRA 1","w":2884,"t":5.35},{"s":"MUESTRA 1","w":2878,"t":4.9},{"s":"MUESTRA 1","w":2873,"t":4.3},{"s":"MUESTRA 1","w":2864,"t":2.9},{"s":"MUESTRA 1","w":2859,"t":2.0},
        {"s":"MUESTRA 1","w":2853,"t":1.55},{"s":"MUESTRA 1","w":2848,"t":2.4},{"s":"MUESTRA 1","w":2842,"t":5.5},{"s":"MUESTRA 1","w":2836,"t":9.5},{"s":"MUESTRA 1","w":2828,"t":12.0},{"s":"MUESTRA 1","w":2820,"t":14.9},{"s":"MUESTRA 1","w":2811,"t":16.2},{"s":"MUESTRA 1","w":2800,"t":17.25},{"s":"MUESTRA 1","w":2783,"t":18.15},{"s":"MUESTRA 1","w":2755,"t":18.55},
        {"s":"MUESTRA 1","w":2741,"t":18.5},{"s":"MUESTRA 1","w":2730,"t":18.35},{"s":"MUESTRA 1","w":2714,"t":18.7},{"s":"MUESTRA 1","w":2672,"t":18.95},{"s":"MUESTRA 1","w":2616,"t":19.3},{"s":"MUESTRA 1","w":2541,"t":19.85},{"s":"MUESTRA 1","w":2449,"t":20.3},{"s":"MUESTRA 1","w":2401,"t":20.3},{"s":"MUESTRA 1","w":2382,"t":20.2},{"s":"MUESTRA 1","w":2368,"t":19.3},
        {"s":"MUESTRA 1","w":2360,"t":21.0},{"s":"MUESTRA 1","w":2354,"t":22.7},{"s":"MUESTRA 1","w":2349,"t":20.3},{"s":"MUESTRA 1","w":2343,"t":19.35},{"s":"MUESTRA 1","w":2337,"t":19.8},{"s":"MUESTRA 1","w":2329,"t":20.4},{"s":"MUESTRA 1","w":2315,"t":20.55},{"s":"MUESTRA 1","w":2298,"t":20.6},{"s":"MUESTRA 1","w":2206,"t":20.85},{"s":"MUESTRA 1","w":2114,"t":21.1},
        {"s":"MUESTRA 1","w":2019,"t":21.3},{"s":"MUESTRA 1","w":1970,"t":21.4},{"s":"MUESTRA 1","w":1927,"t":21.5},{"s":"MUESTRA 1","w":1900,"t":21.55},{"s":"MUESTRA 1","w":1880,"t":21.6},{"s":"MUESTRA 1","w":1860,"t":21.5},{"s":"MUESTRA 1","w":1845,"t":21.3},{"s":"MUESTRA 1","w":1830,"t":21.65},{"s":"MUESTRA 1","w":1815,"t":21.0},{"s":"MUESTRA 1","w":1800,"t":21.55},
        {"s":"MUESTRA 1","w":1785,"t":21.2},{"s":"MUESTRA 1","w":1770,"t":21.45},{"s":"MUESTRA 1","w":1755,"t":21.05},{"s":"MUESTRA 1","w":1740,"t":21.5},{"s":"MUESTRA 1","w":1725,"t":20.9},{"s":"MUESTRA 1","w":1712,"t":21.3},{"s":"MUESTRA 1","w":1698,"t":20.85},{"s":"MUESTRA 1","w":1684,"t":21.2},{"s":"MUESTRA 1","w":1670,"t":20.7},{"s":"MUESTRA 1","w":1656,"t":21.1},
        {"s":"MUESTRA 1","w":1642,"t":20.6},{"s":"MUESTRA 1","w":1628,"t":20.7},{"s":"MUESTRA 1","w":1617,"t":20.0},{"s":"MUESTRA 1","w":1603,"t":19.4},{"s":"MUESTRA 1","w":1592,"t":19.5},{"s":"MUESTRA 1","w":1581,"t":19.9},{"s":"MUESTRA 1","w":1567,"t":20.3},{"s":"MUESTRA 1","w":1550,"t":20.45},{"s":"MUESTRA 1","w":1531,"t":20.4},{"s":"MUESTRA 1","w":1520,"t":20.25},
        {"s":"MUESTRA 1","w":1506,"t":19.95},{"s":"MUESTRA 1","w":1497,"t":19.55},{"s":"MUESTRA 1","w":1489,"t":18.7},{"s":"MUESTRA 1","w":1481,"t":17.2},{"s":"MUESTRA 1","w":1475,"t":15.4},{"s":"MUESTRA 1","w":1470,"t":12.8},{"s":"MUESTRA 1","w":1464,"t":9.7},{"s":"MUESTRA 1","w":1459,"t":7.0},{"s":"MUESTRA 1","w":1456,"t":5.7},{"s":"MUESTRA 1","w":1453,"t":4.9},
        {"s":"MUESTRA 1","w":1450,"t":5.0},{"s":"MUESTRA 1","w":1447,"t":6.0},{"s":"MUESTRA 1","w":1442,"t":8.7},{"s":"MUESTRA 1","w":1436,"t":11.9},{"s":"MUESTRA 1","w":1431,"t":14.6},{"s":"MUESTRA 1","w":1425,"t":16.9},{"s":"MUESTRA 1","w":1420,"t":18.4},{"s":"MUESTRA 1","w":1411,"t":19.2},{"s":"MUESTRA 1","w":1403,"t":19.55},{"s":"MUESTRA 1","w":1397,"t":19.45},
        {"s":"MUESTRA 1","w":1392,"t":18.9},{"s":"MUESTRA 1","w":1386,"t":17.5},{"s":"MUESTRA 1","w":1381,"t":14.4},{"s":"MUESTRA 1","w":1378,"t":12.0},{"s":"MUESTRA 1","w":1375,"t":10.0},{"s":"MUESTRA 1","w":1372,"t":8.9},{"s":"MUESTRA 1","w":1370,"t":9.3},{"s":"MUESTRA 1","w":1367,"t":11.0},{"s":"MUESTRA 1","w":1364,"t":13.0},{"s":"MUESTRA 1","w":1361,"t":14.8},
        {"s":"MUESTRA 1","w":1356,"t":16.3},{"s":"MUESTRA 1","w":1350,"t":17.2},{"s":"MUESTRA 1","w":1342,"t":17.7},{"s":"MUESTRA 1","w":1333,"t":18.2},{"s":"MUESTRA 1","w":1322,"t":18.7},{"s":"MUESTRA 1","w":1314,"t":19.0},{"s":"MUESTRA 1","w":1306,"t":19.2},{"s":"MUESTRA 1","w":1294,"t":19.5},{"s":"MUESTRA 1","w":1283,"t":19.7},{"s":"MUESTRA 1","w":1275,"t":19.85},
        {"s":"MUESTRA 1","w":1261,"t":20.0},{"s":"MUESTRA 1","w":1247,"t":20.2},{"s":"MUESTRA 1","w":1233,"t":20.5},{"s":"MUESTRA 1","w":1219,"t":20.8},{"s":"MUESTRA 1","w":1205,"t":21.0},{"s":"MUESTRA 1","w":1194,"t":21.05},{"s":"MUESTRA 1","w":1180,"t":20.9},{"s":"MUESTRA 1","w":1169,"t":20.6},{"s":"MUESTRA 1","w":1158,"t":20.2},{"s":"MUESTRA 1","w":1150,"t":20.16},
        {"s":"MUESTRA 1","w":1138,"t":20.5},{"s":"MUESTRA 1","w":1127,"t":20.8},{"s":"MUESTRA 1","w":1116,"t":20.9},{"s":"MUESTRA 1","w":1105,"t":20.65},{"s":"MUESTRA 1","w":1094,"t":20.5},{"s":"MUESTRA 1","w":1083,"t":20.3},{"s":"MUESTRA 1","w":1072,"t":20.05},{"s":"MUESTRA 1","w":1064,"t":19.9},{"s":"MUESTRA 1","w":1058,"t":19.85},{"s":"MUESTRA 1","w":1047,"t":19.8},
        {"s":"MUESTRA 1","w":1036,"t":19.85},{"s":"MUESTRA 1","w":1025,"t":20.0},{"s":"MUESTRA 1","w":1014,"t":20.2},{"s":"MUESTRA 1","w":1000,"t":20.5},{"s":"MUESTRA 1","w":989,"t":20.7},{"s":"MUESTRA 1","w":978,"t":20.5},{"s":"MUESTRA 1","w":966,"t":20.2},{"s":"MUESTRA 1","w":958,"t":20.05},{"s":"MUESTRA 1","w":947,"t":20.2},{"s":"MUESTRA 1","w":936,"t":20.3},
        {"s":"MUESTRA 1","w":925,"t":20.45},{"s":"MUESTRA 1","w":914,"t":20.55},{"s":"MUESTRA 1","w":905,"t":20.6},{"s":"MUESTRA 1","w":897,"t":20.5},{"s":"MUESTRA 1","w":889,"t":20.2},{"s":"MUESTRA 1","w":880,"t":20.1},{"s":"MUESTRA 1","w":872,"t":20.0},{"s":"MUESTRA 1","w":864,"t":19.9},{"s":"MUESTRA 1","w":855,"t":19.75},{"s":"MUESTRA 1","w":847,"t":19.7},
        {"s":"MUESTRA 1","w":838,"t":19.7},{"s":"MUESTRA 1","w":827,"t":19.65},{"s":"MUESTRA 1","w":819,"t":18.8},{"s":"MUESTRA 1","w":811,"t":17.6},{"s":"MUESTRA 1","w":805,"t":16.8},{"s":"MUESTRA 1","w":800,"t":16.9},{"s":"MUESTRA 1","w":794,"t":17.8},{"s":"MUESTRA 1","w":789,"t":18.4},{"s":"MUESTRA 1","w":783,"t":18.0},{"s":"MUESTRA 1","w":778,"t":17.3},
        {"s":"MUESTRA 1","w":772,"t":17.0},{"s":"MUESTRA 1","w":766,"t":16.9},{"s":"MUESTRA 1","w":761,"t":16.6},{"s":"MUESTRA 1","w":755,"t":16.2},{"s":"MUESTRA 1","w":750,"t":15.8},{"s":"MUESTRA 1","w":744,"t":15.2},{"s":"MUESTRA 1","w":739,"t":14.9},{"s":"MUESTRA 1","w":733,"t":14.3},{"s":"MUESTRA 1","w":728,"t":13.8},{"s":"MUESTRA 1","w":722,"t":12.8},
        {"s":"MUESTRA 1","w":719,"t":12.0},{"s":"MUESTRA 1","w":716,"t":11.6},{"s":"MUESTRA 1","w":714,"t":12.0},{"s":"MUESTRA 1","w":711,"t":13.2},{"s":"MUESTRA 1","w":708,"t":14.2},{"s":"MUESTRA 1","w":703,"t":14.5},{"s":"MUESTRA 1","w":700,"t":13.8},{"s":"MUESTRA 1","w":697,"t":13.0},{"s":"MUESTRA 1","w":694,"t":12.6},{"s":"MUESTRA 1","w":691,"t":12.6},
        {"s":"MUESTRA 1","w":686,"t":13.8},{"s":"MUESTRA 1","w":680,"t":13.6},{"s":"MUESTRA 1","w":675,"t":12.9},{"s":"MUESTRA 1","w":669,"t":11.3},{"s":"MUESTRA 1","w":661,"t":8.4},{"s":"MUESTRA 1","w":650,"t":5.4},{"s":"MUESTRA 1","w":641,"t":2.4},{"s":"MUESTRA 1","w":633,"t":0.95},{"s":"MUESTRA 1","w":625,"t":0.5},{"s":"MUESTRA 1","w":616,"t":0.25},
        {"s":"MUESTRA 1","w":608,"t":0.15},{"s":"MUESTRA 1","w":603,"t":0.18},{"s":"MUESTRA 1","w":600,"t":0.42}
      ]},
      "mark": {"type": "line", "strokeWidth": 1, "interpolate": "linear"},
      "encoding": {
        "x": {
          "field": "w", "type": "quantitative",
          "scale": {"domain": [600, 3500], "reverse": true, "nice": false, "zero": false},
          "axis": {
            "values": [3500, 3000, 2000, 1000, 600], "format": "d",
            "title": "Wavenumber [cm-1]", "grid": false, "ticks": false,
            "labelPadding": 4, "labelFontSize": 9, "labelColor": "#444", "labelFlush": false,
            "domainColor": "#9a9a9a", "titleFontSize": 9, "titleFontWeight": "normal",
            "titleColor": "#444", "titlePadding": 2
          }
        },
        "y": {
          "field": "t", "type": "quantitative",
          "scale": {"domain": [0, 24], "nice": false},
          "axis": {
            "values": [0, 10, 20, 24], "title": "%T", "titleAngle": 0,
            "titleX": -24, "titleY": 302, "titleAlign": "center", "titleBaseline": "middle",
            "titleFontSize": 8, "titleFontWeight": "normal", "titleColor": "#444",
            "grid": false, "tickSize": 3, "tickColor": "#777", "labelPadding": 2,
            "labelFontSize": 9.5, "labelColor": "#444", "domainColor": "#9a9a9a"
          }
        },
        "color": {
          "field": "s", "type": "nominal",
          "scale": {
            "domain": ["MUESTRA 1", "MUESTRA 2", "MUESTRA 3", "MUESTRA 4", "MUESTRA 5"],
            "range": ["#5aa469", "#353a6b", "#6f4f4f", "#d9a35f", "#cfc04e"]
          },
          "legend": null
        }
      }
    },
    {
      "data": {"values": [{}]},
      "mark": {"type": "rule", "strokeWidth": 1},
      "encoding": {
        "x": {"datum": 2207.3, "type": "quantitative"}, "x2": {"datum": 2159.9},
        "y": {"datum": 6.12, "type": "quantitative"},
        "color": {"datum": "MUESTRA 1", "type": "nominal"}
      }
    },
    {
      "data": {"values": [{}]},
      "mark": {"type": "text", "text": "MUESTRA 1", "align": "left", "baseline": "middle", "fontSize": 7.5, "color": "#555"},
      "encoding": {"x": {"datum": 2148.8, "type": "quantitative"}, "y": {"datum": 6.12, "type": "quantitative"}}
    },
    {
      "data": {"values": [{}]},
      "mark": {"type": "rule", "strokeWidth": 1},
      "encoding": {
        "x": {"datum": 2207.3, "type": "quantitative"}, "x2": {"datum": 2159.9},
        "y": {"datum": 5.63, "type": "quantitative"},
        "color": {"datum": "MUESTRA 2", "type": "nominal"}
      }
    },
    {
      "data": {"values": [{}]},
      "mark": {"type": "text", "text": "MUESTRA 2", "align": "left", "baseline": "middle", "fontSize": 7.5, "color": "#555"},
      "encoding": {"x": {"datum": 2148.8, "type": "quantitative"}, "y": {"datum": 5.63, "type": "quantitative"}}
    },
    {
      "data": {"values": [{}]},
      "mark": {"type": "rule", "strokeWidth": 1},
      "encoding": {
        "x": {"datum": 2207.3, "type": "quantitative"}, "x2": {"datum": 2159.9},
        "y": {"datum": 5.11, "type": "quantitative"},
        "color": {"datum": "MUESTRA 3", "type": "nominal"}
      }
    },
    {
      "data": {"values": [{}]},
      "mark": {"type": "text", "text": "MUESTRA 3", "align": "left", "baseline": "middle", "fontSize": 7.5, "color": "#555"},
      "encoding": {"x": {"datum": 2148.8, "type": "quantitative"}, "y": {"datum": 5.11, "type": "quantitative"}}
    },
    {
      "data": {"values": [{}]},
      "mark": {"type": "rule", "strokeWidth": 1},
      "encoding": {
        "x": {"datum": 2207.3, "type": "quantitative"}, "x2": {"datum": 2159.9},
        "y": {"datum": 4.62, "type": "quantitative"},
        "color": {"datum": "MUESTRA 4", "type": "nominal"}
      }
    },
    {
      "data": {"values": [{}]},
      "mark": {"type": "text", "text": "MUESTRA 4", "align": "left", "baseline": "middle", "fontSize": 7.5, "color": "#555"},
      "encoding": {"x": {"datum": 2148.8, "type": "quantitative"}, "y": {"datum": 4.62, "type": "quantitative"}}
    },
    {
      "data": {"values": [{}]},
      "mark": {"type": "rect", "fill": "white", "stroke": "black", "strokeWidth": 1},
      "encoding": {
        "x": {"datum": 3438.7, "type": "quantitative"},
        "x2": {"datum": 3254.8},
        "y": {"datum": 16.67, "type": "quantitative"},
        "y2": {"datum": 7.91}
      }
    },
    {
      "data": {"values": [{}]},
      "mark": {"type": "text", "text": "% transmitancia", "angle": 270, "font": "Liberation Serif", "fontSize": 23, "align": "center", "baseline": "middle", "color": "black"},
      "encoding": {
        "x": {"datum": 3346.8, "type": "quantitative"},
        "y": {"datum": 12.29, "type": "quantitative"}
      }
    },
    {
      "data": {"values": [{}]},
      "mark": {"type": "rect", "fill": "white", "stroke": "black", "strokeWidth": 1},
      "encoding": {
        "x": {"datum": 2396.7, "type": "quantitative"},
        "x2": {"datum": 1786.6},
        "y": {"datum": 4.51, "type": "quantitative"},
        "y2": {"datum": 2.28}
      }
    },
    {
      "data": {"values": [{}]},
      "mark": {"type": "text", "text": "Número de onda", "font": "Liberation Serif", "fontSize": 23, "align": "center", "baseline": "middle", "color": "black"},
      "encoding": {
        "x": {"datum": 2110, "type": "quantitative"},
        "y": {"datum": 3.31, "type": "quantitative"}
      }
    }
  ]
}
